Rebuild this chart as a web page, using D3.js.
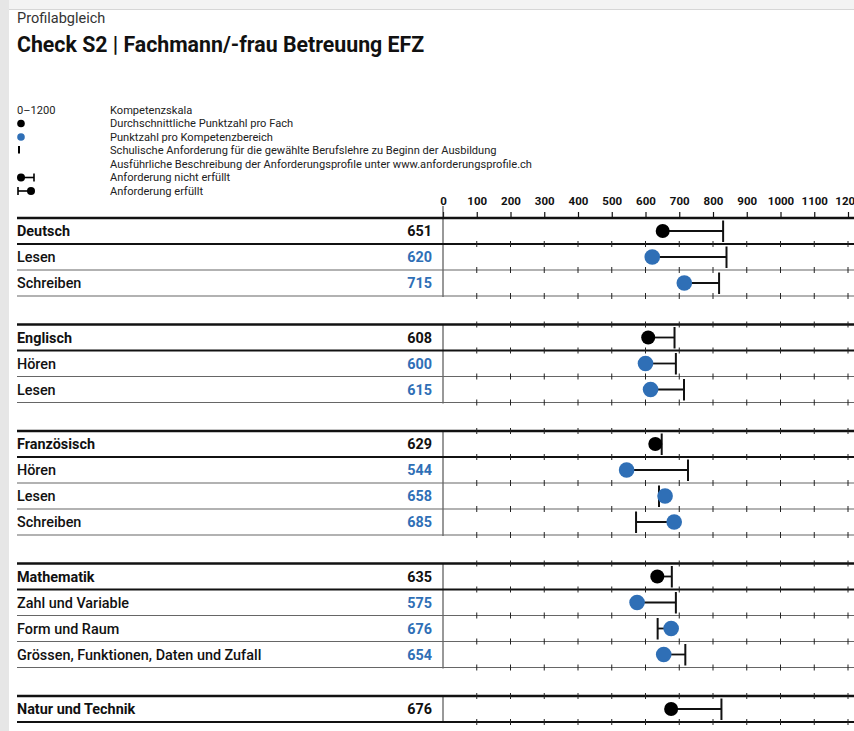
<!DOCTYPE html>
<html>
<head>
<meta charset="utf-8">
<script src="https://cdn.jsdelivr.net/npm/d3@7"></script>
<style>
  html, body { margin: 0; padding: 0; background: #fff; }
  svg { display: block; font-family: Roboto, "Noto Sans", sans-serif; }
</style>
</head>
<body>
<svg width="854" height="731"></svg>
<script>
// --- data ---
const subjects = ['Deutsch', 'Englisch', 'Französisch', 'Mathematik', 'Natur und Technik'];
const subjectScores = [651, 608, 629, 635, 676];
const subjectRequired = [830, 686, 648, 678, 825];

const areaNames = [
  ['Lesen', 'Schreiben'],
  ['Hören', 'Lesen'],
  ['Hören', 'Lesen', 'Schreiben'],
  ['Zahl und Variable', 'Form und Raum', 'Grössen, Funktionen, Daten und Zufall'],
  []
];
const areaScores = [
  [620, 715],
  [600, 615],
  [544, 658, 685],
  [575, 676, 654],
  []
];
const areaRequired = [
  [840, 818],
  [690, 714],
  [726, 640, 572],
  [690, 636, 718],
  []
];
const tickValues = [0, 100, 200, 300, 400, 500, 600, 700, 800, 900, 1000, 1100, 1200];

const legendItems = [
  'Kompetenzskala',
  'Durchschnittliche Punktzahl pro Fach',
  'Punktzahl pro Kompetenzbereich',
  'Schulische Anforderung für die gewählte Berufslehre zu Beginn der Ausbildung',
  'Ausführliche Beschreibung der Anforderungsprofile unter www.anforderungsprofile.ch',
  'Anforderung nicht erfüllt',
  'Anforderung erfüllt'
];

const blue = '#2f6fb6';
const svg = d3.select('svg');

// grauer rahmen links / oben
svg.append('rect').attr('x', 0).attr('y', 0).attr('width', 854).attr('height', 9).attr('fill', '#f3f3f3');
svg.append('rect').attr('x', 0).attr('y', 0).attr('width', 9).attr('height', 731).attr('fill', '#e6e6e6');
svg.append('line').attr('x1', 9).attr('x2', 854).attr('y1', 9.5).attr('y2', 9.5).attr('stroke', '#d6d6d6');

// titel
svg.append('text').attr('x', 17).attr('y', 23).attr('font-size', 14.5).attr('fill', '#333').text('Profilabgleich');
svg.append('text').attr('x', 17).attr('y', 52).attr('font-size', 21.3).attr('font-weight', 700).attr('fill', '#111')
  .text('Check S2 | Fachmann/-frau Betreuung EFZ');

// legende
const legend = svg.append('g').attr('font-size', 11.1).attr('fill', '#222');
const legY = i => 113.5 + i * 13.5;
legend.append('text').attr('x', 17).attr('y', legY(0)).text('0–1200');
legend.selectAll('text.leg').data(legendItems).join('text')
  .attr('class', 'leg').attr('x', 110).attr('y', (d, i) => legY(i)).text(d => d);
legend.append('circle').attr('cx', 21).attr('cy', legY(1) - 3.5).attr('r', 3.8).attr('fill', '#000');
legend.append('circle').attr('cx', 21).attr('cy', legY(2) - 3.5).attr('r', 3.8).attr('fill', blue);
legend.append('line').attr('x1', 19).attr('x2', 19).attr('y1', legY(3) - 8).attr('y2', legY(3) - 0.5)
  .attr('stroke', '#000').attr('stroke-width', 2);
// nicht erfuellt: punkt dann strich
const g1 = legend.append('g').attr('transform', `translate(0,${legY(5) - 3.5})`);
g1.append('line').attr('x1', 21).attr('x2', 34).attr('stroke', '#000').attr('stroke-width', 1.6);
g1.append('line').attr('x1', 34).attr('x2', 34).attr('y1', -4).attr('y2', 4).attr('stroke', '#000').attr('stroke-width', 1.6);
g1.append('circle').attr('cx', 21).attr('r', 4).attr('fill', '#000');
// erfuellt: strich dann punkt
const g2 = legend.append('g').attr('transform', `translate(0,${legY(6) - 3.5})`);
g2.append('line').attr('x1', 18).attr('x2', 31).attr('stroke', '#000').attr('stroke-width', 1.6);
g2.append('line').attr('x1', 18).attr('x2', 18).attr('y1', -4).attr('y2', 4).attr('stroke', '#000').attr('stroke-width', 1.6);
g2.append('circle').attr('cx', 31).attr('r', 4).attr('fill', '#000');

// skala
const x = d3.scaleLinear().domain([0, 1200]).range([443, 848]);

// achse oben
const topY = 218;
svg.append('g')
  .attr('transform', `translate(0,${topY})`)
  .call(d3.axisTop(x).tickValues(tickValues).tickFormat(d3.format('d')).tickSize(6).tickSizeOuter(0))
  .call(g => g.select('.domain').remove())
  .call(g => g.selectAll('line').attr('stroke', '#111').attr('stroke-width', 1.2))
  .call(g => g.selectAll('text').attr('font-family', 'Roboto, sans-serif').attr('font-size', 11.5)
    .attr('font-weight', 700).attr('fill', '#111').attr('y', -13));

// zeilen
const rowH = 26;
const gap = 28.5;
const left = 17;
const right = 860;
let y0 = topY;

subjects.forEach((subj, si) => {
  const rows = [{ name: subj, score: subjectScores[si], req: subjectRequired[si], head: true }]
    .concat(areaNames[si].map((n, k) => ({ name: n, score: areaScores[si][k], req: areaRequired[si][k], head: false })));
  const g = svg.append('g');
  const top = y0;
  const bottom = top + rows.length * rowH;

  // senkrechte null-linie
  g.append('line').attr('x1', x(0)).attr('x2', x(0)).attr('y1', top - (si === 0 ? 12 : 0)).attr('y2', bottom + 1)
    .attr('stroke', '#333').attr('stroke-width', 1);

  // obere linie
  g.append('line').attr('x1', left).attr('x2', right).attr('y1', top).attr('y2', top)
    .attr('stroke', '#111').attr('stroke-width', 2.5);

  rows.forEach((r, ri) => {
    const ry = top + ri * rowH;
    const cy = ry + rowH / 2;
    const by = ry + rowH;
    // untere linie
    g.append('line').attr('x1', left).attr('x2', right).attr('y1', by).attr('y2', by)
      .attr('stroke', r.head ? '#111' : '#666').attr('stroke-width', r.head ? 2 : 1.2);
    // kleine ticks
    g.selectAll(null).data(tickValues.slice(1)).join('line')
      .attr('x1', d => x(d)).attr('x2', d => x(d)).attr('y1', by - 3).attr('y2', by + 3)
      .attr('stroke', '#222').attr('stroke-width', 1);
    if (ri === 0 && si > 0) {
      g.selectAll(null).data(tickValues.slice(1)).join('line')
        .attr('x1', d => x(d)).attr('x2', d => x(d)).attr('y1', ry - 3).attr('y2', ry + 3)
        .attr('stroke', '#222').attr('stroke-width', 1);
    }
    // beschriftung
    g.append('text').attr('x', 17).attr('y', cy + 5).attr('font-size', 14.4)
      .attr('font-weight', r.head ? 700 : 500).attr('fill', '#111').text(r.name);
    g.append('text').attr('x', 432).attr('y', cy + 5).attr('font-size', 14.4).attr('font-weight', 700)
      .attr('text-anchor', 'end').attr('fill', r.head ? '#111' : blue).text(r.score);
    // anforderung
    g.append('line').attr('x1', x(r.score)).attr('x2', x(r.req)).attr('y1', cy).attr('y2', cy)
      .attr('stroke', '#111').attr('stroke-width', 1.8);
    g.append('line').attr('x1', x(r.req)).attr('x2', x(r.req)).attr('y1', ry + 2.5).attr('y2', by - 2)
      .attr('stroke', '#111').attr('stroke-width', 2);
    g.append('circle').attr('cx', x(r.score)).attr('cy', cy).attr('r', r.head ? 7 : 7.8)
      .attr('fill', r.head ? '#000' : blue);
  });

  y0 = bottom + gap;
});
</script>
</body>
</html>
